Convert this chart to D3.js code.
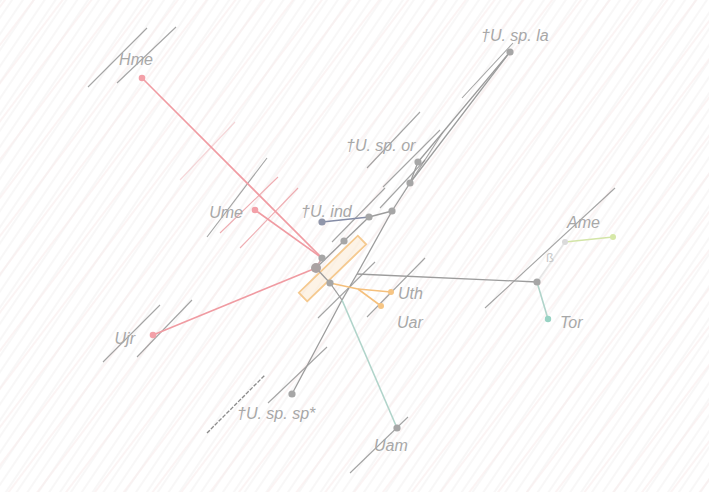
<!DOCTYPE html>
<html><head><meta charset="utf-8">
<script src="https://cdn.jsdelivr.net/npm/d3@7"></script>
<style>html,body{margin:0;padding:0;background:#fff;}svg{display:block;}</style>
</head><body>
<svg id="chart" width="709" height="492"></svg>
<script>
// ---- data (PC1 / PC2 scores) ----
const nodeIds = ["Hme","Ume","Ujr","nA","nB","nC","nD","Uind","nE","nF","nG","Usp_or","Usp_la","nL","nK","Usp_sp","Uam","nI","Tor","nJ","Ame","nO","Uth","Uar"];
const pc1 = [-1.88,-0.75,-1.77,-0.08,-0.14,0.00,0.14,-0.08,0.39,0.62,0.80,0.88,1.80,0.27,0.12,-0.38,0.67,2.07,2.18,2.35,2.83,0.28,0.61,0.51];
const pc2 = [1.92,0.60,-0.65,0.12,0.02,-0.13,0.29,0.48,0.53,0.59,0.87,1.08,2.18,-0.04,-0.30,-1.24,-1.58,-0.12,-0.49,0.28,0.33,-0.19,-0.22,-0.36];
const nodeKind = ["red","red","red","grey","root","grey","grey","blue","grey","grey","grey","grey","grey","none","none","grey","grey","grey","teal","faint","lime","none","orange","orange"];

const tipIds = ["Hme","Usp_la","Usp_or","Ume","Uind","Uth","Uar","Tor","Ame","Ujr","Usp_sp","Uam"];
const tipLabels = ["Hme","\u2020U. sp. la","\u2020U. sp. or","Ume","\u2020U. ind","Uth","Uar","Tor","Ame","Ujr","\u2020U. sp. sp*","Uam"];

const edgeFrom = ["Hme","Ume","nA","Ujr","nB","nB","nD","Uind","nE","nF","nG","Usp_or","nG","nF","nL","nK","nK","nL","nI","nI","nJ","nC","nO","nO","nC"];
const edgeTo   = ["nA","nA","nB","nB","nC","nD","nE","nE","nF","nG","Usp_or","Usp_la","Usp_la","nL","nK","Usp_sp","Uam","nI","Tor","nJ","Ame","nO","Uth","Uar","nK"];
const edgeClade= ["red","red","redgrey","red","grey","grey","grey","blue","grey","grey","grey","grey","grey","grey","grey","grey","teal","grey","teal","faint","lime","orange","orange","orange","grey"];

// short diagonal segments scattered over the plot (PC1a, PC2a, PC1b, PC2b)
const segA1 = [-2.42,-2.13,-1.50,-1.23,-1.10,-0.90,0.37,0.53,0.80,1.32,1.55,0.37,-2.27,-1.93,-1.23,-0.62,0.20,-0.12,0.02,0.50];
const segA2 = [1.83,1.87,0.90,0.33,0.37,0.22,1.02,0.83,0.87,1.72,-0.38,-0.47,-0.92,-0.87,-1.63,-1.33,-2.03,-0.48,0.28,0.62];
const segB1 = [-1.83,-1.54,-0.95,-0.63,-0.52,-0.32,0.90,1.10,1.13,1.83,2.85,0.95,-1.70,-1.38,-0.65,-0.03,0.78,0.45,0.55,0.95];
const segB2 = [2.42,2.43,1.48,1.12,0.93,0.82,1.58,1.40,1.38,2.27,0.82,0.12,-0.35,-0.30,-1.05,-0.77,-1.47,0.08,0.82,1.10];
const segKind = ["grey","grey","redfaint","grey","red","red","grey","grey","grey","grey","grey","grey","grey","grey","dash","grey","grey","grey","grey","grey"];

// orange uncertainty band (two ends)
const bandPC1 = [-0.27,0.32];
const bandPC2 = [-0.27,0.30];

// ---- drawing ----
const W = 709, H = 492;
const svg = d3.select("#chart");
const x = d3.scaleLinear().domain([-3.3, 3.79]).range([0, W]);
const y = d3.scaleLinear().domain([2.7, -2.22]).range([0, H]);

const defs = svg.append("defs");
const p1 = defs.append("pattern").attr("id","hatch1").attr("patternUnits","userSpaceOnUse")
  .attr("width",9).attr("height",9).attr("patternTransform","rotate(34)");
p1.append("line").attr("x1",1).attr("y1",0).attr("x2",1).attr("y2",9).attr("stroke","#f1efef").attr("stroke-width",1);
const p2 = defs.append("pattern").attr("id","hatch2").attr("patternUnits","userSpaceOnUse")
  .attr("width",23).attr("height",23).attr("patternTransform","rotate(37)");
p2.append("line").attr("x1",4).attr("y1",0).attr("x2",4).attr("y2",23).attr("stroke","#f9eced").attr("stroke-width",1.2);

svg.append("rect").attr("width",W).attr("height",H).attr("fill","#ffffff");
svg.append("rect").attr("width",W).attr("height",H).attr("fill","url(#hatch1)");
svg.append("rect").attr("width",W).attr("height",H).attr("fill","url(#hatch2)");

const pos = {};
nodeIds.forEach((id,i)=>{ pos[id] = [x(pc1[i]), y(pc2[i])]; });

// streak segments
const segColor = {grey:"#8f8f8f", red:"#ec9aa0", redfaint:"#f4cdd0", dash:"#6f6f6f"};
svg.append("g").selectAll("line").data(segA1.map((d,i)=>i)).join("line")
  .attr("x1",i=>x(segA1[i])).attr("y1",i=>y(segA2[i]))
  .attr("x2",i=>x(segB1[i])).attr("y2",i=>y(segB2[i]))
  .attr("stroke",i=>segColor[segKind[i]])
  .attr("stroke-width",i=>segKind[i]==="dash"?1.3:1.1)
  .attr("stroke-dasharray",i=>segKind[i]==="dash"?"4,1.5":null)
  .attr("opacity",0.8);

// orange band
(function(){
  const ax=x(bandPC1[0]), ay=y(bandPC2[0]), bx=x(bandPC1[1]), by=y(bandPC2[1]);
  const L=Math.hypot(bx-ax,by-ay), nx=-(by-ay)/L*6, ny=(bx-ax)/L*6;
  svg.append("polygon")
    .attr("points",[[ax+nx,ay+ny],[bx+nx,by+ny],[bx-nx,by-ny],[ax-nx,ay-ny]].map(p=>p.join(",")).join(" "))
    .attr("fill","#fcebd5").attr("fill-opacity",0.6).attr("stroke","#f5c98f").attr("stroke-width",1.8);
})();

// edges
const edgeColor = {red:"#f09ba2", redgrey:"#cfa8ab", grey:"#9c9c9c", blue:"#848ca6", teal:"#b0d4ca", faint:"#e6e6e6", lime:"#d3e5a8", orange:"#f5c07c"};
svg.append("g").selectAll("line").data(edgeFrom.map((d,i)=>i)).join("line")
  .attr("x1",i=>pos[edgeFrom[i]][0]).attr("y1",i=>pos[edgeFrom[i]][1])
  .attr("x2",i=>pos[edgeTo[i]][0]).attr("y2",i=>pos[edgeTo[i]][1])
  .attr("stroke",i=>edgeColor[edgeClade[i]])
  .attr("stroke-width",i=>edgeClade[i]==="grey"?1.3:1.6);

// nodes
const dotColor = {red:"#f3a0a8", grey:"#a6a6a6", root:"#aaa2a2", blue:"#9096aa", teal:"#97d2c3", lime:"#d6e8a8", orange:"#f6c584", faint:"#dadada"};
const dotR = {red:3.3, grey:3.6, root:5, blue:3.6, teal:3.2, lime:3, orange:3, faint:3};
svg.append("g").selectAll("circle").data(nodeIds.map((d,i)=>i).filter(i=>nodeKind[i]!=="none")).join("circle")
  .attr("cx",i=>pos[nodeIds[i]][0]).attr("cy",i=>pos[nodeIds[i]][1])
  .attr("r",i=>dotR[nodeKind[i]]).attr("fill",i=>dotColor[nodeKind[i]]);

// labels
const labelOffset = {Hme:[-6,-13,"middle"],Usp_la:[-29,-11,"start"],Usp_or:[-72,-11,"start"],Ume:[-12,8,"end"],
  Uind:[-21,-5,"start"],Uth:[7,7,"start"],Uar:[16,22,"start"],Tor:[12,9,"start"],Ame:[-46,-9,"start"],
  Ujr:[-18,9,"end"],Usp_sp:[-55,25,"start"],Uam:[-23,23,"start"]};
svg.append("g").selectAll("text").data(tipIds.map((d,i)=>i)).join("text")
  .attr("x",i=>pos[tipIds[i]][0]+labelOffset[tipIds[i]][0])
  .attr("y",i=>pos[tipIds[i]][1]+labelOffset[tipIds[i]][1])
  .attr("text-anchor",i=>labelOffset[tipIds[i]][2])
  .attr("font-family","Liberation Sans, Arial, sans-serif")
  .attr("font-style","italic").attr("font-size",16).attr("fill","#a8a8a8")
  .text(i=>tipLabels[i]);

// small ghost mark near Ame
svg.append("text").attr("x",x(2.20)).attr("y",y(0.08)).attr("text-anchor","middle")
  .attr("font-family","Liberation Sans, Arial, sans-serif").attr("font-size",13).attr("fill","#c8c8c8").text("\u00df");
</script>
</body></html>
